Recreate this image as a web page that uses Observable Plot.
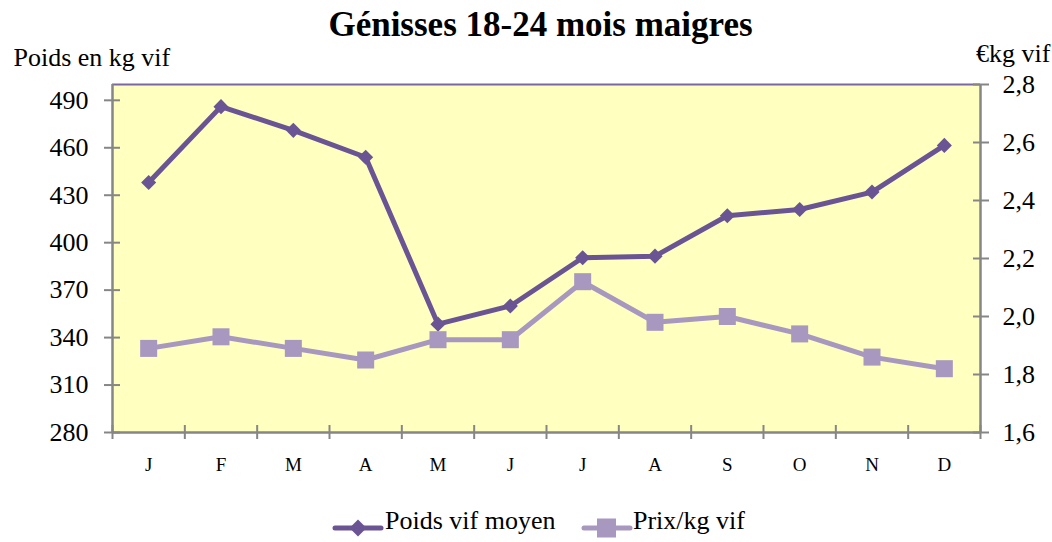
<!DOCTYPE html>
<html><head><meta charset="utf-8">
<script src="https://cdn.jsdelivr.net/npm/d3@7"></script>
<script src="https://cdn.jsdelivr.net/npm/@observablehq/plot@0.6"></script>
<style>
body{margin:0;background:#fff;font-family:"Liberation Serif","Times New Roman",serif;}
#wrap{position:relative;width:1052px;height:542px;overflow:hidden;}
.lg{position:absolute;font-size:26px;line-height:26px;color:#000;white-space:nowrap;}
</style></head><body><div id="wrap"></div>
<script>
const months = ["J","F","M","A","M","J","J","A","S","O","N","D"];
const poids = [438,486,471,454,348.5,360,390.5,391.5,417,421,432,461.5];
const prix = [1.89,1.93,1.89,1.85,1.92,1.92,2.12,1.98,2.00,1.94,1.86,1.82];
const leftTicks = [280,310,340,370,400,430,460,490];
const rightTicks = [1.6,1.8,2.0,2.2,2.4,2.6,2.8];
const rightTickLabels = ["1,6","1,8","2,0","2,2","2,4","2,6","2,8"];
const seriesNames = ["Poids vif moyen","Prix/kg vif"];
const title = "Génisses 18-24 mois maigres";
const leftLabel = "Poids en kg vif";
const rightLabel = "€kg vif";

const colPoids = "#6b5494";
const colPrix = "#a898c0";
const gray = "#868686";
const leftDomain = [280, 500];
const rightDomain = [1.6, 2.8];
const toLeft = p => leftDomain[0] + (p - rightDomain[0]) * (leftDomain[1] - leftDomain[0]) / (rightDomain[1] - rightDomain[0]);

const idx = d3.range(months.length);

const chart = Plot.plot({
  width: 1052,
  height: 490,
  marginTop: 84,
  marginBottom: 58,
  marginLeft: 112,
  marginRight: 72,
  style: {fontFamily: '"Liberation Serif","Times New Roman",serif', fontSize: "26px", color: "#000", background: "transparent", overflow: "visible"},
  x: {domain: [0, months.length], axis: null},
  y: {domain: leftDomain, axis: null},
  marks: [
    Plot.frame({fill: "#ffffc0", stroke: null}),
    Plot.ruleY([leftDomain[1]], {stroke: "#7b67a3", strokeWidth: 2}),
    // x ticks at category boundaries
    Plot.axisX({ticks: d3.range(months.length + 1), tickSize: 14, dy: -7, tickFormat: () => "", stroke: gray, strokeWidth: 2, label: null}),
    // x labels centered in categories
    Plot.axisX({ticks: idx.map(i => i + 0.5), tickSize: 0, tickPadding: 25, tickFormat: d => months[Math.floor(d)], fontSize: 19, label: null}),
    // left axis
    Plot.axisY({anchor: "left", ticks: leftTicks, tickSize: 16, dx: 8, tickPadding: 16, stroke: gray, strokeWidth: 2, fontSize: 26, label: null}),
    // right axis
    Plot.axisY({anchor: "right", ticks: rightTicks.map(toLeft), tickSize: 16, dx: -8, tickPadding: 14, stroke: gray, strokeWidth: 2, fontSize: 26, label: null,
      tickFormat: v => rightTickLabels[rightTicks.findIndex(t => Math.abs(toLeft(t) - v) < 1e-6)]}),
    Plot.ruleX([0], {stroke: gray, strokeWidth: 2.5}),
    Plot.ruleX([months.length], {stroke: gray, strokeWidth: 2.5}),
    Plot.ruleY([leftDomain[0]], {stroke: gray, strokeWidth: 2.5}),
    // Poids series
    Plot.line(idx, {x: i => i + 0.5, y: i => poids[i], stroke: colPoids, strokeWidth: 5}),
    Plot.dot(idx, {x: i => i + 0.5, y: i => poids[i], symbol: "diamond2", r: 6.8, fill: colPoids, stroke: null}),
    // Prix series (secondary axis)
    Plot.line(idx, {x: i => i + 0.5, y: i => toLeft(prix[i]), stroke: colPrix, strokeWidth: 5}),
    Plot.dot(idx, {x: i => i + 0.5, y: i => toLeft(prix[i]), symbol: "square", r: 9.6, fill: colPrix, stroke: null}),
    // titles
    Plot.text([title], {text: d => d, frameAnchor: "top", dx: -6, dy: -49, lineAnchor: "bottom", fontSize: 35, fontWeight: "bold"}),
    Plot.text([leftLabel], {text: d => d, frameAnchor: "top-left", textAnchor: "start", lineAnchor: "bottom", dx: -99, dy: -19, fontSize: 26}),
    Plot.text([rightLabel], {text: d => d, frameAnchor: "top-right", textAnchor: "end", lineAnchor: "bottom", dx: 70, dy: -23, fontSize: 26})
  ]
});
const wrap = document.getElementById("wrap");
chart.style.position = "absolute";
chart.style.left = "0px";
chart.style.top = "0px";
wrap.appendChild(chart);

// legend
function swatch(color, shape, left) {
  const s = d3.create("svg").attr("width", 52).attr("height", 22)
    .style("position", "absolute").style("left", left + "px").style("top", "517px");
  s.append("line").attr("x1", 3).attr("x2", 49).attr("y1", 11).attr("y2", 11)
    .attr("stroke", color).attr("stroke-width", 5).attr("stroke-linecap", "round");
  if (shape === "diamond") {
    s.append("path").attr("d", "M26,2.5L34.5,11L26,19.5L17.5,11Z").attr("fill", color);
  } else {
    s.append("rect").attr("x", 16).attr("y", 1.5).attr("width", 19).attr("height", 19).attr("fill", color);
  }
  wrap.appendChild(s.node());
}
function label(text, left) {
  const d = document.createElement("div");
  d.className = "lg";
  d.style.left = left + "px";
  d.style.top = "508px";
  d.textContent = text;
  wrap.appendChild(d);
}
swatch(colPoids, "diamond", 332);
label(seriesNames[0], 385);
swatch(colPrix, "square", 581);
label(seriesNames[1], 633);
</script></body></html>
